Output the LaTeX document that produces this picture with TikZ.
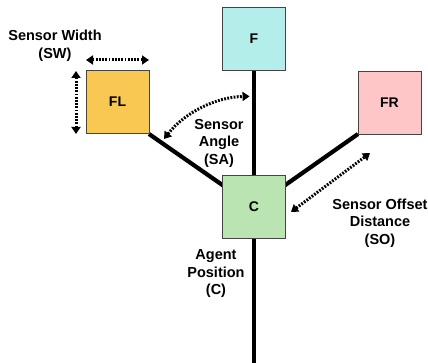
\documentclass[tikz,border=0pt]{standalone}
\usepackage{fontspec}
\setmainfont{Liberation Sans}
\usetikzlibrary{arrows.meta}
\definecolor{cF}{HTML}{B4EEEA}
\definecolor{cFL}{HTML}{F9C852}
\definecolor{cFR}{HTML}{FEC6C6}
\definecolor{cC}{HTML}{BAE5B2}
\definecolor{edge}{HTML}{444444}
\tikzset{
  box/.style={draw=edge, line width=0.8pt, minimum size=63pt, inner sep=0pt,
    font=\fontsize{14}{17}\selectfont\bfseries},
  rod/.style={line width=4.2pt, black},
  meas/.style={line width=3pt, dash pattern=on 1.8pt off 1.4pt,
    {Triangle[length=7pt,width=9pt]}-{Triangle[length=7pt,width=9pt]}},
  lbl/.style={align=center, font=\fontsize{14.5}{17.5}\selectfont\bfseries, inner sep=0pt}
}
\begin{document}
\begin{tikzpicture}[x=1pt,y=-1pt]
\useasboundingbox (0,0) rectangle (428,363);
\coordinate (bot) at (254,366);
\coordinate (Cc) at (254,207);
% rods
\draw[rod] (149,134) -- (Cc);
\draw[rod] (358,134) -- (Cc);
\draw[rod] (254,70) -- (bot);
% boxes
\node[box, fill=cF] (F) at (254,39) {F};
\node[box, fill=cFL] (FL) at (117.5,102) {FL};
\node[box, fill=cFR] (FR) at (389.5,102.5) {FR};
\node[box, fill=cC] (C) at (254,207) {C};
% measurement arrows
\coordinate (sw1) at (86,60);
\coordinate (sw2) at (149,60);
\draw[meas] (sw1) -- (sw2);
\coordinate (sh1) at (76,71);
\coordinate (sh2) at (76,134);
\draw[meas] (sh1) -- (sh2);
\coordinate (sa1) at (164,139);
\draw[meas] (sa1) arc[start angle=-142, end angle=-91, radius=111];
\coordinate (so1) at (291,212);
\coordinate (so2) at (370,153);
\draw[meas] (so1) -- (so2);
% labels
\node[lbl] (tSW) at (55,46) {Sensor Width\\(SW)};
\node[lbl] (tSA) at (219,143) {Sensor\\Angle\\(SA)};
\node[lbl] (tSO) at (380,223) {Sensor Offset\\Distance\\(SO)};
\node[lbl] (tC) at (216,274) {Agent\\Position\\(C)};
\end{tikzpicture}
\end{document}
